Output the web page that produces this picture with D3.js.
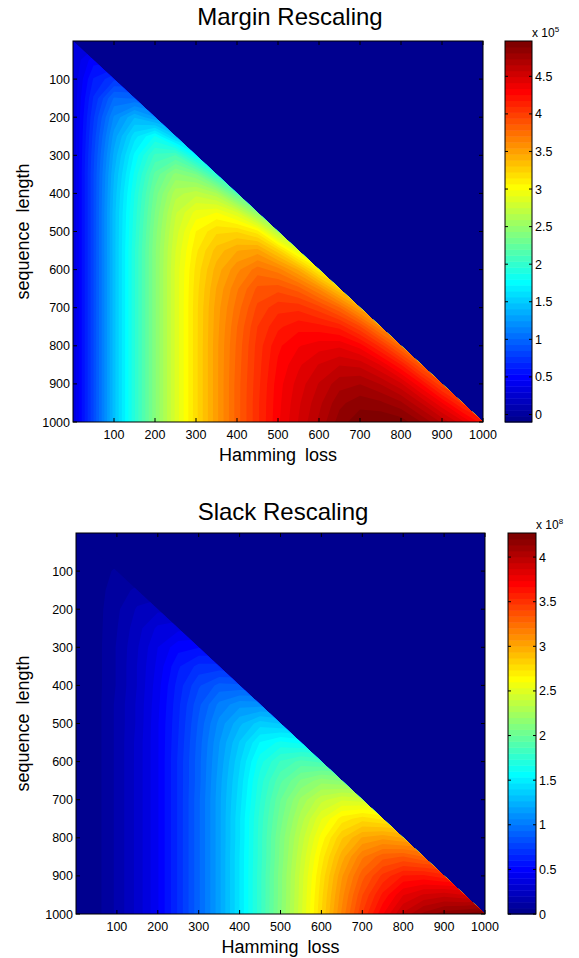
<!DOCTYPE html>
<html>
<head>
<meta charset="utf-8">
<script src="https://cdn.jsdelivr.net/npm/d3@7"></script>
<style>
  html, body { margin: 0; padding: 0; background: #fff; }
  svg text { font-family: "Liberation Sans", Arial, Helvetica, sans-serif; fill: #000; }
</style>
</head>
<body>
<svg id="chart" width="579" height="958"></svg>
<script>
// Grid axes (Hamming loss along x, sequence length along y), step 50
const hammingLoss    = [0, 50, 100, 150, 200, 250, 300, 350, 400, 450, 500, 550, 600, 650, 700, 750, 800, 850, 900, 950, 1000];
const sequenceLength = [0, 50, 100, 150, 200, 250, 300, 350, 400, 450, 500, 550, 600, 650, 700, 750, 800, 850, 900, 950, 1000];

// Margin rescaling (x 10^5); row = sequence length, entries = Hamming loss 0..length
const marginRows = [
  [0.30],
  [0.30, 0.50],
  [0.30, 0.62, 0.75],
  [0.30, 0.70, 1.02, 1.00],
  [0.30, 0.76, 1.18, 1.40, 1.25],
  [0.30, 0.80, 1.28, 1.61, 1.81, 1.50],
  [0.30, 0.83, 1.35, 1.74, 2.06, 2.12, 1.75],
  [0.30, 0.85, 1.40, 1.82, 2.22, 2.46, 2.36, 1.98],
  [0.30, 0.85, 1.43, 1.88, 2.31, 2.64, 2.72, 2.61, 2.20],
  [0.30, 0.85, 1.45, 1.91, 2.36, 2.74, 2.94, 2.99, 2.84, 2.45],
  [0.30, 0.85, 1.45, 1.93, 2.40, 2.79, 3.07, 3.21, 3.22, 3.10, 2.65],
  [0.30, 0.85, 1.45, 1.95, 2.42, 2.83, 3.13, 3.34, 3.46, 3.50, 3.26, 2.88],
  [0.30, 0.85, 1.45, 1.95, 2.42, 2.85, 3.17, 3.42, 3.60, 3.74, 3.66, 3.45, 3.08],
  [0.30, 0.85, 1.45, 1.95, 2.42, 2.85, 3.19, 3.47, 3.69, 3.88, 3.91, 3.82, 3.61, 3.28],
  [0.30, 0.85, 1.45, 1.95, 2.42, 2.85, 3.20, 3.50, 3.74, 3.96, 4.07, 4.07, 3.97, 3.79, 3.47],
  [0.30, 0.85, 1.45, 1.95, 2.42, 2.85, 3.20, 3.51, 3.78, 4.02, 4.16, 4.23, 4.21, 4.15, 3.95, 3.62],
  [0.30, 0.85, 1.45, 1.95, 2.42, 2.85, 3.20, 3.52, 3.80, 4.05, 4.24, 4.33, 4.38, 4.40, 4.30, 4.07, 3.75],
  [0.30, 0.85, 1.45, 1.95, 2.42, 2.85, 3.20, 3.52, 3.81, 4.06, 4.27, 4.40, 4.50, 4.57, 4.55, 4.41, 4.18, 3.85],
  [0.30, 0.85, 1.45, 1.95, 2.42, 2.85, 3.20, 3.52, 3.82, 4.07, 4.30, 4.45, 4.58, 4.70, 4.73, 4.65, 4.51, 4.26, 3.95],
  [0.30, 0.85, 1.45, 1.95, 2.42, 2.85, 3.20, 3.52, 3.82, 4.08, 4.31, 4.48, 4.63, 4.79, 4.86, 4.83, 4.75, 4.57, 4.34, 4.07],
  [0.30, 0.85, 1.45, 1.95, 2.42, 2.85, 3.20, 3.52, 3.82, 4.08, 4.32, 4.50, 4.67, 4.85, 4.95, 4.97, 4.94, 4.81, 4.64, 4.44, 4.20]
];

// Slack rescaling (x 10^8); same layout
const slackRows = [
  [0],
  [0, 0.03],
  [0, 0.03, 0.08],
  [0, 0.04, 0.10, 0.15],
  [0, 0.04, 0.12, 0.21, 0.25],
  [0, 0.04, 0.13, 0.24, 0.35, 0.38],
  [0, 0.04, 0.14, 0.26, 0.40, 0.51, 0.53],
  [0, 0.04, 0.14, 0.27, 0.42, 0.59, 0.69, 0.69],
  [0, 0.04, 0.14, 0.27, 0.44, 0.63, 0.79, 0.89, 0.88],
  [0, 0.04, 0.15, 0.28, 0.45, 0.65, 0.85, 1.02, 1.11, 1.10],
  [0, 0.04, 0.15, 0.28, 0.46, 0.66, 0.88, 1.09, 1.25, 1.37, 1.33],
  [0, 0.04, 0.15, 0.29, 0.46, 0.67, 0.90, 1.13, 1.34, 1.54, 1.62, 1.58],
  [0, 0.04, 0.15, 0.29, 0.46, 0.68, 0.91, 1.15, 1.39, 1.64, 1.81, 1.89, 1.85],
  [0, 0.04, 0.15, 0.29, 0.46, 0.68, 0.91, 1.17, 1.42, 1.70, 1.92, 2.08, 2.17, 2.13],
  [0, 0.04, 0.15, 0.29, 0.46, 0.68, 0.92, 1.18, 1.44, 1.73, 2.00, 2.22, 2.38, 2.46, 2.43],
  [0, 0.04, 0.15, 0.29, 0.46, 0.68, 0.92, 1.18, 1.46, 1.76, 2.04, 2.30, 2.53, 2.70, 2.77, 2.72],
  [0, 0.04, 0.15, 0.29, 0.46, 0.68, 0.92, 1.18, 1.46, 1.77, 2.08, 2.36, 2.63, 2.86, 3.01, 3.05, 3.00],
  [0, 0.04, 0.15, 0.29, 0.46, 0.68, 0.92, 1.18, 1.47, 1.77, 2.09, 2.40, 2.70, 2.97, 3.19, 3.31, 3.34, 3.27],
  [0, 0.04, 0.15, 0.29, 0.46, 0.68, 0.92, 1.18, 1.47, 1.78, 2.11, 2.43, 2.75, 3.06, 3.31, 3.49, 3.61, 3.62, 3.56],
  [0, 0.04, 0.15, 0.29, 0.46, 0.68, 0.92, 1.18, 1.47, 1.78, 2.11, 2.44, 2.78, 3.11, 3.40, 3.62, 3.80, 3.88, 3.91, 3.87],
  [0, 0.04, 0.15, 0.29, 0.46, 0.68, 0.92, 1.18, 1.47, 1.78, 2.12, 2.45, 2.80, 3.15, 3.47, 3.73, 3.95, 4.09, 4.18, 4.22, 4.27]
];

// Axis and colour bar ticks
const axisTicks   = [100, 200, 300, 400, 500, 600, 700, 800, 900, 1000];
const marginTicks = [0, 0.5, 1, 1.5, 2, 2.5, 3, 3.5, 4, 4.5];
const slackTicks  = [0, 0.5, 1, 1.5, 2, 2.5, 3, 3.5, 4];
const marginRange = [-0.1, 4.97];
const slackRange  = [0, 4.27];

const svg = d3.select("#chart");
const NC = 64; // colormap entries

// MATLAB-style jet colormap
function jet(t) {
  const c = v => Math.max(0, Math.min(1, v));
  return d3.rgb(
    Math.round(255 * c(1.5 - Math.abs(4 * t - 3))),
    Math.round(255 * c(1.5 - Math.abs(4 * t - 2))),
    Math.round(255 * c(1.5 - Math.abs(4 * t - 1)))
  ).toString();
}
const bandColor = k => jet((k + 1) / NC);

function drawPanel(cfg, idx) {
  const g = svg.append("g");
  const x = d3.scaleLinear().domain([0, 1000]).range([cfg.left, cfg.right]);
  const y = d3.scaleLinear().domain([0, 1000]).range([cfg.top, cfg.bottom]);

  // full grid; cells beyond the diagonal repeat the row's last value (they are clipped away)
  const nx = hammingLoss.length, ny = sequenceLength.length;
  const grid = new Array(nx * ny);
  for (let j = 0; j < ny; j++) {
    const row = cfg.rows[j];
    for (let i = 0; i < nx; i++) grid[j * nx + i] = i < row.length ? row[i] : row[row.length - 1];
  }
  const [lo, hi] = cfg.range;
  const thresholds = d3.range(NC).map(k => lo + k * (hi - lo) / NC);
  const bands = d3.contours().size([nx, ny]).thresholds(thresholds)(grid);
  const step = hammingLoss[1] - hammingLoss[0];
  const proj = d3.geoTransform({
    point(px, py) { this.stream.point(x(hammingLoss[0] + (px - 0.5) * step), y(sequenceLength[0] + (py - 0.5) * step)); }
  });
  const path = d3.geoPath(proj);

  const clipId = "tri" + idx;
  g.append("clipPath").attr("id", clipId)
    .append("path")
    .attr("d", `M${x(0)},${y(0)}L${x(0)},${y(1000)}L${x(1000)},${y(1000)}Z`);

  // area outside the triangle takes the lowest colour
  g.append("rect")
    .attr("x", cfg.left).attr("y", cfg.top)
    .attr("width", cfg.right - cfg.left).attr("height", cfg.bottom - cfg.top)
    .attr("fill", bandColor(0));

  g.append("g").attr("clip-path", `url(#${clipId})`)
    .selectAll("path").data(bands).join("path")
    .attr("d", path)
    .attr("fill", (d, k) => bandColor(k));

  // frame
  g.append("rect")
    .attr("x", cfg.left).attr("y", cfg.top)
    .attr("width", cfg.right - cfg.left).attr("height", cfg.bottom - cfg.top)
    .attr("fill", "none").attr("stroke", "#000").attr("stroke-width", 1);

  // inward ticks on all four sides
  const tl = 4;
  const tg = g.append("g").attr("stroke", "#000").attr("stroke-width", 1);
  axisTicks.forEach(v => {
    const px = x(v), py = y(v);
    tg.append("line").attr("x1", px).attr("x2", px).attr("y1", cfg.bottom).attr("y2", cfg.bottom - tl);
    tg.append("line").attr("x1", px).attr("x2", px).attr("y1", cfg.top).attr("y2", cfg.top + tl);
    tg.append("line").attr("y1", py).attr("y2", py).attr("x1", cfg.left).attr("x2", cfg.left + tl);
    tg.append("line").attr("y1", py).attr("y2", py).attr("x1", cfg.right).attr("x2", cfg.right - tl);
  });

  g.append("g").selectAll("text").data(axisTicks).join("text")
    .attr("x", d => x(d)).attr("y", cfg.bottom + 17)
    .attr("text-anchor", "middle").attr("font-size", 12.5).text(d => d);
  g.append("g").selectAll("text").data(axisTicks).join("text")
    .attr("x", cfg.left - 3).attr("y", d => y(d) + 4.5)
    .attr("text-anchor", "end").attr("font-size", 12.5).text(d => d);

  // titles and axis labels
  g.append("text").attr("x", cfg.titleX).attr("y", cfg.titleY)
    .attr("text-anchor", "middle").attr("font-size", 24).text(cfg.title);
  g.append("text").attr("x", (cfg.left + cfg.right) / 2).attr("y", cfg.bottom + 39)
    .attr("text-anchor", "middle").attr("font-size", 18).attr("word-spacing", 4).text("Hamming loss");
  g.append("text")
    .attr("transform", `translate(29,${(cfg.top + cfg.bottom) / 2}) rotate(-90)`)
    .attr("text-anchor", "middle").attr("font-size", 18).attr("word-spacing", 4).text("sequence length");

  // colour bar
  const cb = d3.scaleLinear().domain(cfg.range).range([cfg.bottom, cfg.top]);
  const cg = g.append("g");
  d3.range(NC).forEach(k => {
    const v0 = lo + k * (hi - lo) / NC, v1 = lo + (k + 1) * (hi - lo) / NC;
    cg.append("rect")
      .attr("x", cfg.cbX).attr("width", cfg.cbW)
      .attr("y", cb(v1)).attr("height", cb(v0) - cb(v1) + 0.5)
      .attr("fill", bandColor(k));
  });
  cg.append("rect")
    .attr("x", cfg.cbX).attr("y", cfg.top).attr("width", cfg.cbW).attr("height", cfg.bottom - cfg.top)
    .attr("fill", "none").attr("stroke", "#000").attr("stroke-width", 1);
  const ctg = cg.append("g").attr("stroke", "#000").attr("stroke-width", 1);
  cfg.ticks.forEach(v => {
    const py = cb(v);
    ctg.append("line").attr("x1", cfg.cbX).attr("x2", cfg.cbX + 3).attr("y1", py).attr("y2", py);
    ctg.append("line").attr("x1", cfg.cbX + cfg.cbW).attr("x2", cfg.cbX + cfg.cbW - 3).attr("y1", py).attr("y2", py);
  });
  cg.selectAll("text.tk").data(cfg.ticks).join("text").attr("class", "tk")
    .attr("x", cfg.cbX + cfg.cbW + 3).attr("y", d => cb(d) + 4.5)
    .attr("font-size", 12.5).text(d => d);
  const ex = cg.append("text").attr("x", cfg.cbX + cfg.cbW).attr("y", cfg.top - 4).attr("font-size", 12);
  ex.append("tspan").text("x 10");
  ex.append("tspan").attr("dy", -5).attr("font-size", 8).text(cfg.exponent);
}

drawPanel({
  rows: marginRows, range: marginRange, ticks: marginTicks, exponent: "5",
  title: "Margin Rescaling", titleX: 290, titleY: 25,
  left: 73, right: 483, top: 41, bottom: 422, cbX: 505, cbW: 27
}, 0);

drawPanel({
  rows: slackRows, range: slackRange, ticks: slackTicks, exponent: "8",
  title: "Slack Rescaling", titleX: 283, titleY: 520,
  left: 76, right: 485, top: 533, bottom: 914, cbX: 508, cbW: 28
}, 1);
</script>
</body>
</html>
